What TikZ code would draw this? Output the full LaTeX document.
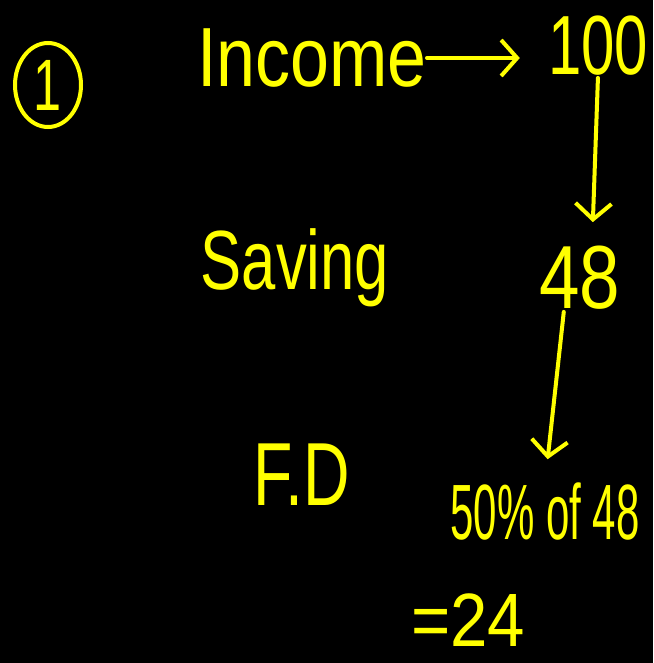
\documentclass[tikz,border=0pt]{standalone}
\usepackage{fontspec}
\setmainfont{Liberation Sans}
\usetikzlibrary{arrows.meta,shapes.geometric}
\definecolor{ink}{HTML}{FFFF00}
\tikzset{
  hand/.style={text=ink, inner sep=0pt, font=\fontsize{56}{60}\selectfont},
  conn/.style={draw=ink, line width=4pt, line cap=round, -{Straight Barb[length=16pt,width=36pt,line width=4pt]}}
}
\begin{document}
\begin{tikzpicture}[x=1pt,y=-1pt]
\fill[black] (0,0) rectangle (653,663);
\useasboundingbox (0,0) rectangle (653,663);
\node[ellipse, draw=ink, line width=4pt, minimum width=66pt, minimum height=84pt, text=ink, font=\fontsize{56}{60}\selectfont, inner sep=0pt] (one) at (48,85) {\scalebox{0.9}[1.3]{1}};
\node[hand] (income) at (312,58) {\scalebox{1.25}[1.5]{Income}};
\node[hand] (hundred) at (598,46) {\scalebox{1.07}[1.5]{100}};
\node[hand] (saving) at (295,268) {\scalebox{1.1}[1.5]{Saving}};
\node[hand] (fortyeight) at (580,278) {\scalebox{1.3}[1.6]{48}};
\node[hand] (fd) at (302,475) {\scalebox{1.15}[1.6]{F.D}};
\node[hand] (fifty) at (545,512) {\scalebox{0.75}[1.4]{50\% of 48}};
\node[hand] (eq) at (468,620) {\scalebox{1.2}[1.35]{=24}};
\draw[conn, shorten >=2pt] (income.east) -- ([xshift=-26pt]hundred.west |- income.east);
\draw[conn, shorten <=2pt, shorten >=24pt] (hundred.south) -- ([xshift=12pt]fortyeight.north);
\draw[conn, shorten <=2pt, shorten >=24pt] ([xshift=-16pt]fortyeight.south) -- ([xshift=0pt]fifty.north);
\end{tikzpicture}
\end{document}
